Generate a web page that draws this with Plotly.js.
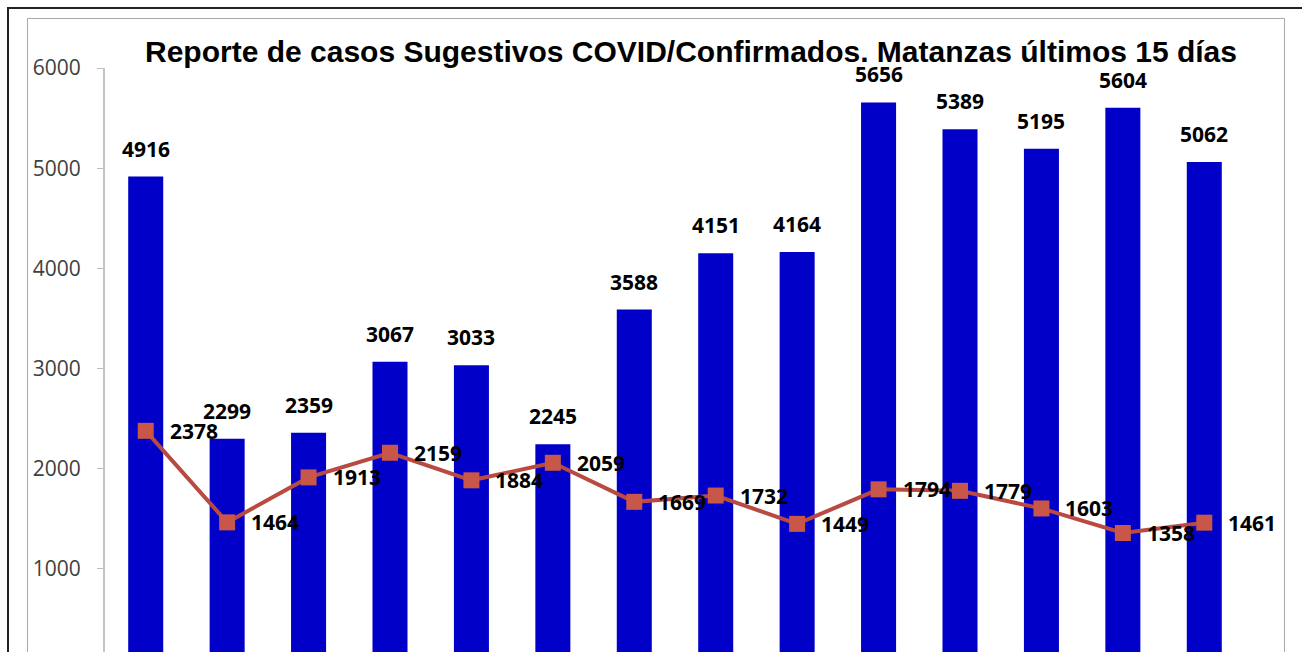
<!DOCTYPE html>
<html><head><meta charset="utf-8">
<script src="https://cdn.plot.ly/plotly-3.0.1.min.js"></script>
<style>html,body{margin:0;padding:0;background:#fff;} #chart{width:1302px;height:652px;}</style>
</head><body><div id="chart"></div>
<script>
const dias = ['Día 1','Día 2','Día 3','Día 4','Día 5','Día 6','Día 7','Día 8','Día 9','Día 10','Día 11','Día 12','Día 13','Día 14'];
const sugestivos = [4916,2299,2359,3067,3033,2245,3588,4151,4164,5656,5389,5195,5604,5062];
const confirmados = [2378,1464,1913,2159,1884,2059,1669,1732,1449,1794,1779,1603,1358,1461];
const yTicks = [1000,2000,3000,4000,5000,6000];
const titulo = 'Reporte de casos Sugestivos COVID/Confirmados. Matanzas últimos 15 días';

const W=1302, H=652, L=105, R=57, T=68, B=0;
const pw = W-L-R, ph = H-T-B;
const fx = p => (p-L)/pw;
const fy = p => 1-(p-T)/ph;

const labelFont = {family:'Open Sans', size:21, color:'#000'};
const annotations = [];
dias.forEach((d,i)=>{
  annotations.push({x:d, y:sugestivos[i], xref:'x', yref:'y', text:'<b>'+sugestivos[i]+'</b>',
    showarrow:false, xanchor:'center', yanchor:'bottom', yshift:12, font:labelFont});
  annotations.push({x:d, y:confirmados[i], xref:'x', yref:'y', text:'<b>'+confirmados[i]+'</b>',
    showarrow:false, xanchor:'left', yanchor:'middle', xshift:22, yshift:0, font:labelFont});
});

const traces = [
  {type:'bar', x:dias, y:sugestivos, width:0.43, marker:{color:'#0000c8'}, hoverinfo:'skip', cliponaxis:true},
  {type:'scatter', mode:'lines+markers', x:dias, y:confirmados,
   line:{color:'#b84a42', width:4}, marker:{symbol:'square', size:16, color:'#c8574a'}, hoverinfo:'skip'}
];

const layout = {
  width:W, height:H, margin:{l:L, r:R, t:T, b:B, pad:0},
  paper_bgcolor:'#fff', plot_bgcolor:'rgba(0,0,0,0)', showlegend:false,
  title:{text:'<b>'+titulo+'</b>', font:{family:'Liberation Sans', size:30, color:'#000'},
    xref:'container', x:691/W, xanchor:'center', yref:'container', y:1-51/H, yanchor:'middle'},
  xaxis:{type:'category', range:[-0.5,13.5], showticklabels:false, showline:false, ticks:'', showgrid:false, zeroline:false, fixedrange:true},
  yaxis:{range:[170,6000], tickvals:yTicks, ticks:'outside', ticklen:6, tickcolor:'#bfbfbf', tickwidth:1,
    showline:true, linecolor:'#c4c4c4', linewidth:2, showgrid:false, zeroline:false,
    tickfont:{family:'Open Sans', size:21, color:'#404040'}, ticklabelstandoff:12, fixedrange:true},
  shapes:[
    {type:'rect', xref:'paper', yref:'paper', x0:fx(8), x1:fx(1330), y0:fy(8), y1:fy(720), line:{color:'#222', width:2}, layer:'below'},
    {type:'rect', xref:'paper', yref:'paper', x0:fx(27.5), x1:fx(1284.5), y0:fy(18.5), y1:fy(720), line:{color:'#a8a8a8', width:1}, layer:'below'}
  ],
  annotations:annotations
};
Plotly.newPlot('chart', traces, layout, {displayModeBar:false, staticPlot:true});
</script></body></html>
